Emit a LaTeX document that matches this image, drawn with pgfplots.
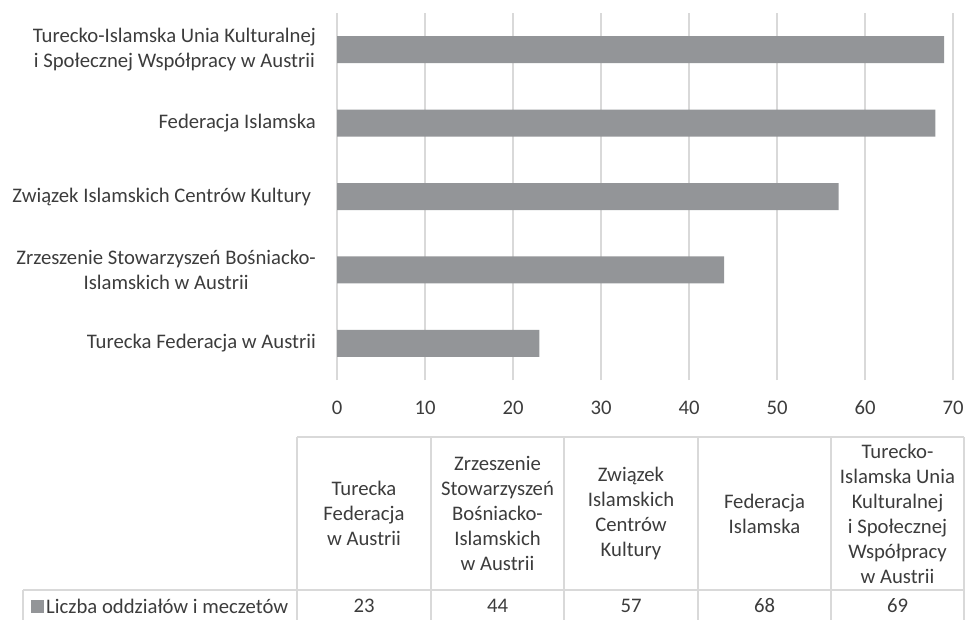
\documentclass[border=0pt]{standalone}
\usepackage{pgfplots}
\pgfplotsset{compat=1.18}
\usepackage{fontspec}
\setmainfont{Carlito}
\definecolor{txt}{RGB}{60,60,60}
\definecolor{barc}{RGB}{147,149,152}
\definecolor{gridc}{RGB}{217,217,217}
\newcommand{\f}{\fontsize{20.7bp}{25bp}\selectfont}
\begin{document}
\begin{tikzpicture}[x=1bp,y=1bp]
\path[use as bounding box] (0,0) rectangle (967,-620);
\begin{axis}[
  at={(337bp,-380bp)}, anchor=south west,
  scale only axis, width=616bp, height=367bp,
  xmin=0, xmax=70, ymin=-0.5, ymax=4.5,
  xbar, bar width=27bp, bar shift=0pt,
  axis line style={draw=none},
  xtick={0,10,...,70}, ytick={0,1,2,3,4},
  yticklabels={Turecka Federacja w Austrii,
    {Zrzeszenie Stowarzyszeń Bośniacko-\\Islamskich w Austrii},
    {Związek Islamskich Centrów Kultury\ },
    Federacja Islamska,
    {Turecko-Islamska Unia Kulturalnej\\i Społecznej Współpracy w Austrii}},
  xmajorgrids, grid style={draw=gridc, line width=1.4bp},
  major tick length=0pt, tick style={draw=none},
  /pgf/number format/assume math mode=true,
  xticklabel style={font=\f, text=txt, anchor=center, yshift=-28bp},
  yticklabel style={font=\f, text=txt, align=center, anchor=east, inner sep=0pt, xshift=-21bp},
  clip=false,
]
\addplot[fill=barc, draw=none] coordinates {(23,0) (44,1) (57,2) (68,3) (69,4)};
\end{axis}
% data table
\begin{scope}[gridc, line width=1.4bp]
\draw (297,-437) -- (964,-437);
\draw (23,-590) -- (964,-590);
\foreach \xx in {297,431,564,698,831,964} {\draw (\xx,-437) -- (\xx,-622);}
\draw (23,-590) -- (23,-622);
\end{scope}
\begin{scope}[every node/.style={font=\f, text=txt, align=center, inner sep=0pt}]
\node at (364,-513.5) {Turecka\\Federacja\\w Austrii};
\node at (497.5,-513.5) {Zrzeszenie\\Stowarzyszeń\\Bośniacko-\\Islamskich\\w Austrii};
\node at (631,-513.5) {Związek\\Islamskich\\Centrów\\Kultury};
\node at (764.5,-513.5) {Federacja\\Islamska};
\node at (897.5,-513.5) {Turecko-\\Islamska Unia\\Kulturalnej\\ i Społecznej\\Współpracy\\w Austrii};
\node at (364,-606) {23};
\node at (497.5,-606) {44};
\node at (631,-606) {57};
\node at (764.5,-606) {68};
\node at (897.5,-606) {69};
\node[anchor=west] at (46,-606) {Liczba oddziałów i meczetów};
\end{scope}
\fill[barc] (31,-600) rectangle (44,-613);
\end{tikzpicture}
\end{document}
